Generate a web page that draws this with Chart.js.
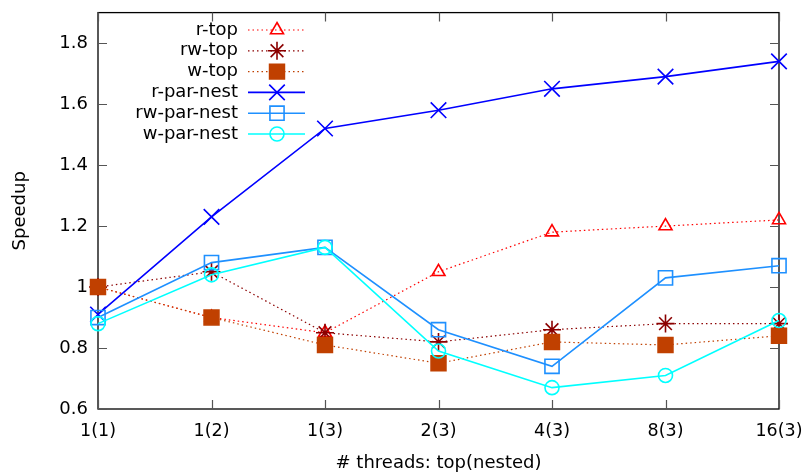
<!DOCTYPE html>
<html>
<head>
<meta charset="utf-8">
<script src="https://cdn.jsdelivr.net/npm/chart.js@4/dist/chart.umd.min.js"></script>
<style>
  html, body { margin: 0; padding: 0; background: #fff; }
  #wrap { width: 803px; height: 474px; position: relative; }
</style>
</head>
<body>
<div id="wrap"><canvas id="c" width="803" height="474"></canvas></div>
<script>
const categories = ['1(1)', '1(2)', '1(3)', '2(3)', '4(3)', '8(3)', '16(3)'];
const seriesNames = ['r-top', 'rw-top', 'w-top', 'r-par-nest', 'rw-par-nest', 'w-par-nest'];
const rTop      = [1.00, 0.90, 0.85, 1.05, 1.18, 1.20, 1.22];
const rwTop     = [1.00, 1.05, 0.85, 0.82, 0.86, 0.88, 0.88];
const wTop      = [1.00, 0.90, 0.81, 0.75, 0.82, 0.81, 0.84];
const rParNest  = [0.91, 1.23, 1.52, 1.58, 1.65, 1.69, 1.74];
const rwParNest = [0.90, 1.08, 1.13, 0.86, 0.74, 1.03, 1.07];
const wParNest  = [0.88, 1.04, 1.13, 0.79, 0.67, 0.71, 0.89];
const yTickValues = [0.6, 0.8, 1.0, 1.2, 1.4, 1.6, 1.8];

const FONT = '"DejaVu Sans", sans-serif';
const styles = [
  { color: '#ff0000', dash: [1.5, 3], width: 1.2, point: 'triangle', radius: 7.5, fill: false },
  { color: '#8b0000', dash: [1.5, 3], width: 1.2, point: 'star', radius: 9, fill: false },
  { color: '#c04000', dash: [1.5, 3], width: 1.2, point: 'rect', radius: 10.5, fill: true },
  { color: '#0000ff', dash: [], width: 1.6, point: 'crossRot', radius: 11, fill: false },
  { color: '#1e90ff', dash: [], width: 1.6, point: 'rect', radius: 10, fill: false },
  { color: '#00ffff', dash: [], width: 1.6, point: 'circle', radius: 7, fill: false }
];
const seriesData = [rTop, rwTop, wTop, rParNest, rwParNest, wParNest];

const datasets = seriesData.map((d, i) => {
  const s = styles[i];
  return {
    label: seriesNames[i],
    data: d,
    borderColor: s.color,
    backgroundColor: s.fill ? s.color : 'rgba(0,0,0,0)',
    borderWidth: s.width,
    borderDash: s.dash,
    pointStyle: s.point,
    pointRadius: s.radius,
    pointHoverRadius: s.radius,
    pointBorderColor: s.color,
    pointBackgroundColor: s.fill ? s.color : 'rgba(0,0,0,0)',
    pointBorderWidth: 1.6,
    tension: 0,
    fill: false,
    clip: false,
    order: 6 - i
  };
});

const frameAndTicks = {
  id: 'frameAndTicks',
  beforeDatasetsDraw(chart) {
    const ctx = chart.ctx;
    const a = chart.chartArea;
    const xs = chart.scales.x, ys = chart.scales.y;
    ctx.save();
    ctx.strokeStyle = '#000';
    ctx.lineWidth = 1.3;
    ctx.strokeRect(a.left, a.top, a.right - a.left, a.bottom - a.top);
    ctx.strokeStyle = '#555';
    ctx.lineWidth = 1.2;
    const L = 9;
    ctx.beginPath();
    ys.ticks.forEach(t => {
      const y = Math.round(ys.getPixelForValue(t.value)) + 0.5;
      ctx.moveTo(a.left, y); ctx.lineTo(a.left + L, y);
      ctx.moveTo(a.right, y); ctx.lineTo(a.right - L, y);
    });
    categories.forEach((c, i) => {
      const x = Math.round(xs.getPixelForValue(i)) + 0.5;
      ctx.moveTo(x, a.bottom); ctx.lineTo(x, a.bottom - L);
      ctx.moveTo(x, a.top); ctx.lineTo(x, a.top + L);
    });
    ctx.stroke();
    ctx.restore();
  }
};

const insideLegend = {
  id: 'insideLegend',
  afterDatasetsDraw(chart) {
    const ctx = chart.ctx;
    ctx.save();
    ctx.font = '18px ' + FONT;
    ctx.textAlign = 'right';
    ctx.textBaseline = 'middle';
    const textRight = 238, lx0 = 248, lx1 = 305, mx = 277;
    seriesNames.forEach((name, i) => {
      const y = 30 + i * 20.8;
      const s = styles[i];
      ctx.fillStyle = '#000';
      ctx.fillText(name, textRight, y);
      ctx.save();
      ctx.strokeStyle = s.color;
      ctx.lineWidth = s.width;
      ctx.setLineDash(s.dash);
      ctx.beginPath();
      ctx.moveTo(lx0, y); ctx.lineTo(lx1, y);
      ctx.stroke();
      ctx.restore();
      ctx.save();
      ctx.setLineDash([]);
      ctx.strokeStyle = s.color;
      ctx.fillStyle = s.fill ? s.color : 'rgba(0,0,0,0)';
      ctx.lineWidth = 1.6;
      Chart.helpers.drawPoint(ctx, { pointStyle: s.point, radius: s.radius, rotation: 0, borderWidth: 1.6 }, mx, y);
      ctx.restore();
    });
    ctx.restore();
  }
};

new Chart(document.getElementById('c'), {
  type: 'line',
  data: { labels: categories, datasets },
  plugins: [frameAndTicks, insideLegend],
  options: {
    responsive: false,
    animation: false,
    devicePixelRatio: 1,
    layout: { padding: { left: 0, right: 24, top: 10, bottom: 0 } },
    plugins: { legend: { display: false }, tooltip: { enabled: false } },
    scales: {
      x: {
        type: 'category',
        offset: false,
        grid: { display: false, drawTicks: false },
        border: { display: false },
        ticks: { color: '#000', font: { family: FONT, size: 17.5 }, padding: 12, maxRotation: 0, autoSkip: false },
        title: { display: true, text: '# threads: top(nested)', color: '#000', font: { family: FONT, size: 18 }, padding: { top: 2, bottom: 0 } },
        afterFit(scale) { scale.height = 65; scale.paddingLeft = 0; scale.paddingRight = 0; }
      },
      y: {
        type: 'linear',
        min: 0.6,
        max: 1.9,
        grid: { display: false, drawTicks: false },
        border: { display: false },
        ticks: {
          color: '#000',
          font: { family: FONT, size: 18 },
          padding: 10,
          callback: (v) => (Math.abs(v - 1) < 1e-9 ? '1' : Number(v).toFixed(1))
        },
        afterBuildTicks(scale) {
          scale.ticks = yTickValues.map(v => ({ value: v }));
        },
        title: { display: true, text: 'Speedup', color: '#000', font: { family: FONT, size: 18 }, padding: { top: 10, bottom: 0 } },
        afterFit(scale) { scale.width = 98; scale.paddingTop = 0; scale.paddingBottom = 0; }
      }
    }
  }
});
</script>
</body>
</html>
